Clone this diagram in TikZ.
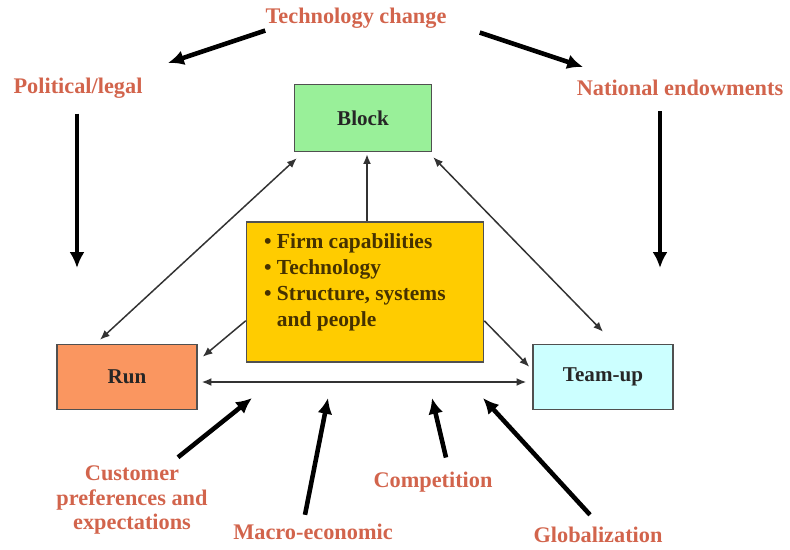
\documentclass[tikz,border=0pt]{standalone}
\usepackage{fontspec}
\setmainfont{Liberation Serif}
\usetikzlibrary{arrows,arrows.meta}

\definecolor{forcered}{RGB}{210,100,76}
\definecolor{blockgreen}{RGB}{153,240,153}
\definecolor{coreyellow}{RGB}{255,204,0}
\definecolor{corebrown}{RGB}{70,50,0}
\definecolor{runorange}{RGB}{250,150,96}
\definecolor{teamcyan}{RGB}{204,255,255}
\definecolor{boxline}{RGB}{80,80,80}

\tikzset{
  force/.style={text=forcered, font=\fontsize{12.7}{14}\selectfont\bfseries, inner sep=0pt, align=center},
  choice/.style={draw=boxline, line width=0.9pt, font=\fontsize{12}{14}\selectfont\bfseries, text=black!85},
  push/.style={-{Latex[length=9pt,width=8.5pt]}, line width=2.6pt},
  link/.style={{Latex[length=5.5pt,width=4.5pt]}-{Latex[length=5.5pt,width=4.5pt]}, line width=0.85pt, black!80},
  feed/.style={-{Latex[length=5.5pt,width=4.5pt]}, line width=0.85pt, black!80}
}

\begin{document}
\begin{tikzpicture}[x=0.02cm,y=-0.02cm]

\useasboundingbox (0,0) rectangle (790,550);

\node [choice, fill=blockgreen, minimum width=2.74cm, minimum height=1.34cm] (block) at (363,118) {Block};
\node [draw=boxline, line width=0.9pt, fill=coreyellow, minimum width=4.74cm, minimum height=2.8cm] (core) at (365,292) {};
\node [anchor=north west, inner sep=0pt, align=left, text=corebrown, font=\fontsize{12.2}{14.8}\selectfont\bfseries] (capab) at ([shift={(18,12)}]core.north west)
  {\textbullet\ Firm capabilities\\ \textbullet\ Technology\\ \textbullet\ Structure, systems\\ \phantom{\textbullet\ }and people};
\node [choice, fill=runorange, minimum width=2.8cm, minimum height=1.3cm] (run) at (127,377) {Run};
\node [choice, fill=teamcyan, minimum width=2.8cm, minimum height=1.3cm] (teamup) at (603,377) {Team-up};

\node [force] (tech) at (356,18) {Technology change};
\node [force] (pol) at (78,88) {Political/legal};
\node [force] (nat) at (680,88) {National endowments};
\node [force] (cust) at (132,500) {Customer\\preferences and\\expectations};
\node [force] (macro) at (313,532) {Macro-economic};
\node [force] (comp) at (433,482) {Competition};
\node [force] (glob) at (598,535) {Globalization};

\coordinate (polin) at (168,63);
\coordinate (natin) at (583,67);
\coordinate (poldown) at (77,268);
\coordinate (natdown) at (660,268);
\coordinate (custin) at (252,398);
\coordinate (macroin) at (328,398);
\coordinate (compin) at (432,398);
\coordinate (globin) at (483,398);

\draw [link] ([shift={(-27,-4)}]run.north) -- ([shift={(3,6)}]block.south west);
\draw [link] ([shift={(0,-12)}]teamup.north) -- ([shift={(1,5)}]block.south east);
\draw [link] ([shift={(4,5)}]run.east) -- ([shift={(-6,5)}]teamup.west);
\draw [feed] ([shift={(2,0)}]core.north) -- ([shift={(4,2)}]block.south);
\draw [feed] ([shift={(0,-42)}]core.south west) -- ([shift={(5,13)}]run.north east);
\draw [feed] ([shift={(0,-42)}]core.south east) -- ([shift={(-3,23)}]teamup.north west);

\draw [push] ([shift={(0,2)}]tech.south west) -- (polin);
\draw [push] ([shift={(33,4)}]tech.south east) -- (natin);
\draw [push] ([shift={(-1,15)}]pol.south) -- (poldown);
\draw [push] ([shift={(-20,15)}]nat.south) -- (natdown);
\draw [push] ([shift={(46,-8)}]cust.north) -- (custin);
\draw [push] ([shift={(-8,-9)}]macro.north) -- (macroin);
\draw [push] ([shift={(13,-14)}]comp.north) -- (compin);
\draw [push] ([shift={(-8,-12)}]glob.north) -- (globin);

\end{tikzpicture}
\end{document}
